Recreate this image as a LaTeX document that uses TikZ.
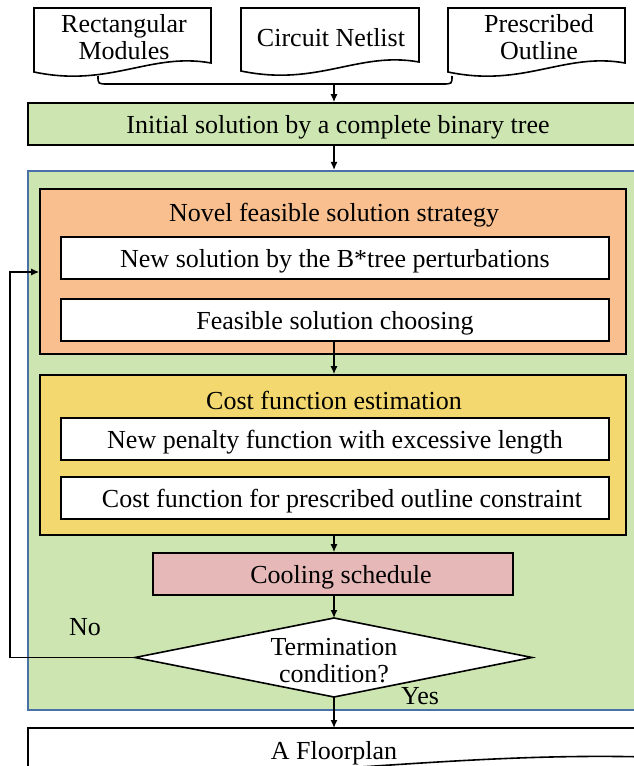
\documentclass[tikz,border=0pt]{standalone}
\usepackage{fontspec}
\setmainfont{Liberation Serif}
\newfontfamily\tnr{Liberation Serif}
\usetikzlibrary{arrows.meta}
\definecolor{lgreen}{HTML}{CDE6B1}
\definecolor{orangef}{HTML}{F9BF8F}
\definecolor{yellowf}{HTML}{F2D86E}
\definecolor{pinkf}{HTML}{E6B8B7}
\definecolor{blueb}{HTML}{4A70A8}
\tikzset{
  ln/.style={line width=1.6bp},
  arr/.style={line width=1.4bp,-{Latex[length=8bp,width=7bp]}},
  box/.style={draw,ln,rectangle,inner sep=0pt,align=center},
  wbox/.style={box,fill=white,minimum width=548bp,minimum height=42bp},
  lbl/.style={inner sep=0pt,align=center},
}
\begin{document}
\begin{tikzpicture}[x=1bp,y=-1bp,font=\tnr\fontsize{26bp}{27bp}\selectfont]
\useasboundingbox (0,0) rectangle (634,766);
% input documents
\draw[ln,fill=white] (34,8) -- (211,8) -- (211,63) .. controls (150,52) and (110,88) .. (34,72) -- cycle;
\draw[ln,fill=white] (241,8) -- (419,8) -- (419,62) .. controls (358,51) and (318,87) .. (241,71) -- cycle;
\draw[ln,fill=white] (448,8) -- (625,8) -- (625,63) .. controls (564,52) and (524,88) .. (448,72) -- cycle;
\node[lbl] (d1) at (124,37) {Rectangular\\Modules};
\node[lbl] (d2) at (331,38) {Circuit Netlist};
\node[lbl] (d3) at (539,37) {Prescribed\\Outline};
% brace
\draw[ln] (98,76) .. controls (98,84) .. (108,84) -- (442,84) .. controls (452,84) .. (452,76);
\coordinate (bm) at (334,84);
% initial
\node[box,fill=lgreen,minimum width=620bp,minimum height=42bp] (init) at (338,124) {};
\node[lbl] (initt) at (338,127) {Initial solution by a complete binary tree};
% region
\node[draw=blueb,line width=2bp,fill=lgreen,minimum width=632bp,minimum height=539bp,inner sep=0pt] (reg) at (344,440.5) {};
% orange
\node[box,fill=orangef,minimum width=586bp,minimum height=165bp] (org) at (333,271.5) {};
\node[lbl] (orgt) at (334,215) {Novel feasible solution strategy};
\node[wbox] (w1) at (335,258) {};
\node[lbl] (w1t) at (335,261) {New solution by the B*tree perturbations};
\node[wbox] (w2) at (335,320) {};
\node[lbl] (w2t) at (335,323) {Feasible solution choosing};
% yellow
\node[box,fill=yellowf,minimum width=586bp,minimum height=160bp] (yel) at (333,455) {};
\node[lbl] (yelt) at (334,400) {Cost function estimation};
\node[wbox] (w3) at (335,439) {};
\node[lbl] (w3t) at (335,442) {New penalty function with excessive length};
\node[wbox] (w4) at (335,498) {};
\node[lbl] (w4t) at (342,501) {Cost function for prescribed outline constraint};
% cooling
\node[box,fill=pinkf,minimum width=360bp,minimum height=42bp] (cool) at (333,574) {};
\node[lbl] (coolt) at (341,577) {Cooling schedule};
% diamond
\coordinate (dl) at (135,657.5);
\coordinate (dr) at (532,657.5);
\coordinate (dt) at (334,618);
\coordinate (db) at (334,697);
\draw[ln,fill=white] (dl) -- (dt) -- (dr) -- (db) -- cycle;
\node[lbl] (dtext) at (334,661) {Termination\\condition?};
\node[lbl] (no) at (85,627) {No};
\node[lbl] (yes) at (420,696) {Yes};
% floorplan
\draw[ln,fill=white] (28,728) -- (648,728) -- (648,757) .. controls (450,752) and (300,780) .. (28,780) -- cycle;
\node[lbl] (fp) at (334,753) {A Floorplan};
\coordinate (fpt) at (334,728);
% arrows
\draw[arr] (bm) -- (init.north -| bm);
\draw[arr] (init.south -| bm) -- (reg.north -| bm);
\draw[arr] (w2.south -| bm) -- (yel.north -| bm);
\draw[arr] (yel.south -| bm) -- (cool.north -| bm);
\draw[arr] (cool.south -| bm) -- (dt);
\draw[arr] (db) -- (fpt);
\coordinate (lc) at (10,272);
\draw[arr] (dl) -| (lc) -- (lc -| org.west);
\end{tikzpicture}
\end{document}
